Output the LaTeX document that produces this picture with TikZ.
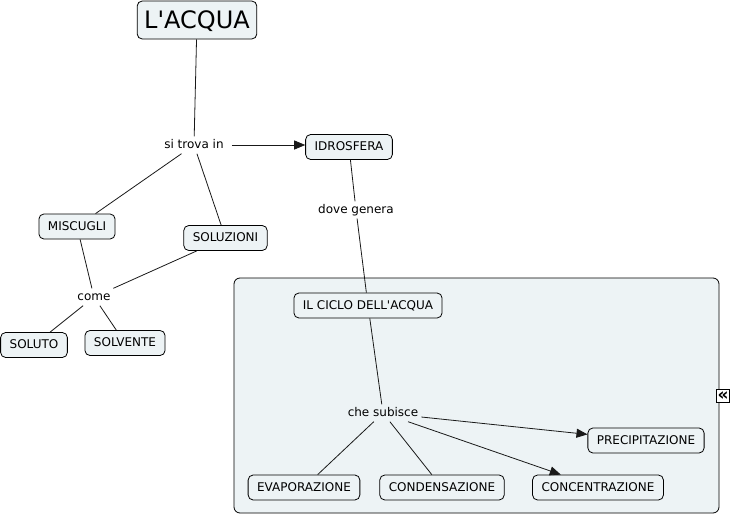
\documentclass[tikz,border=0pt]{standalone}
\usepackage{fontspec}
\setmainfont{DejaVu Sans}
\usetikzlibrary{arrows.meta}
\definecolor{boxfill}{RGB}{237,243,245}
\definecolor{linec}{RGB}{25,25,25}
\begin{document}
\begin{tikzpicture}[x=1pt,y=-1pt,
  concept/.style={draw=black, fill=boxfill, rounded corners=5pt, inner xsep=9pt, inner ysep=0pt,
    minimum height=25pt, font=\fontsize{12}{14}\selectfont, text height=9pt, text depth=2pt, line width=0.8pt},
  phrase/.style={inner xsep=3pt, inner ysep=3pt, font=\fontsize{12}{14}\selectfont, text height=9pt, text depth=2pt},
  conn/.style={draw=linec, line width=0.8pt},
  arr/.style={conn, -{Triangle[length=11pt,width=9pt]}}]
\useasboundingbox (0,0) rectangle (732,517);
\fill[white] (0,0) rectangle (732,517);
% panel
\draw[fill=boxfill, rounded corners=6pt, line width=0.8pt] (234,278) rectangle (719,513);
\node[draw=black, fill=white, minimum size=13pt, inner sep=0pt, line width=0.8pt,
  font=\fontsize{17}{17}\selectfont] (collapse) at (723,396) {\raisebox{-0.5pt}{\textbf{«}}};
% concepts
\node[concept, font=\fontsize{24}{28}\selectfont, text height=17pt, text depth=1pt, inner xsep=7pt, minimum height=38pt] (acqua) at (197,20) {L\textquotesingle ACQUA};
\node[concept] (idro) at (349,147) {IDROSFERA};
\node[concept] (misc) at (77,226.5) {MISCUGLI};
\node[concept] (soluz) at (225.5,238) {SOLUZIONI};
\node[concept] (soluto) at (34,345) {SOLUTO};
\node[concept] (solv) at (125,343) {SOLVENTE};
\node[concept] (ciclo) at (368,305.5) {IL CICLO DELL\textquotesingle ACQUA};
\node[concept] (prec) at (646,440.5) {PRECIPITAZIONE};
\node[concept] (evap) at (304,487.5) {EVAPORAZIONE};
\node[concept] (cond) at (442,487.5) {CONDENSAZIONE};
\node[concept] (conc) at (598,487.5) {CONCENTRAZIONE};
% linking phrases
\node[phrase] (sitrova) at (194,145) {si trova in};
\node[phrase] (dove) at (356,210) {dove genera};
\node[phrase] (come) at (94,297) {come};
\node[phrase] (che) at (383,413) {che subisce};
% connectors
\draw[conn] (acqua) -- (sitrova);
\draw[arr] ([xshift=5pt]sitrova.east) -- (sitrova.east -| idro.west);
\draw[conn] (sitrova) -- (misc);
\draw[conn] (sitrova) -- (soluz);
\draw[conn] (idro) -- (dove);
\draw[conn] (dove) -- (ciclo);
\draw[conn] (misc) -- (come);
\draw[conn] (soluz) -- (come);
\draw[conn] (come) -- (soluto);
\draw[conn] (come) -- (solv);
\draw[conn] (ciclo) -- (che);
\draw[conn] (che) -- (evap);
\draw[conn] (che) -- (cond);
\draw[arr] (che) -- (conc);
\draw[arr] (che) -- (prec);
\end{tikzpicture}
\end{document}
